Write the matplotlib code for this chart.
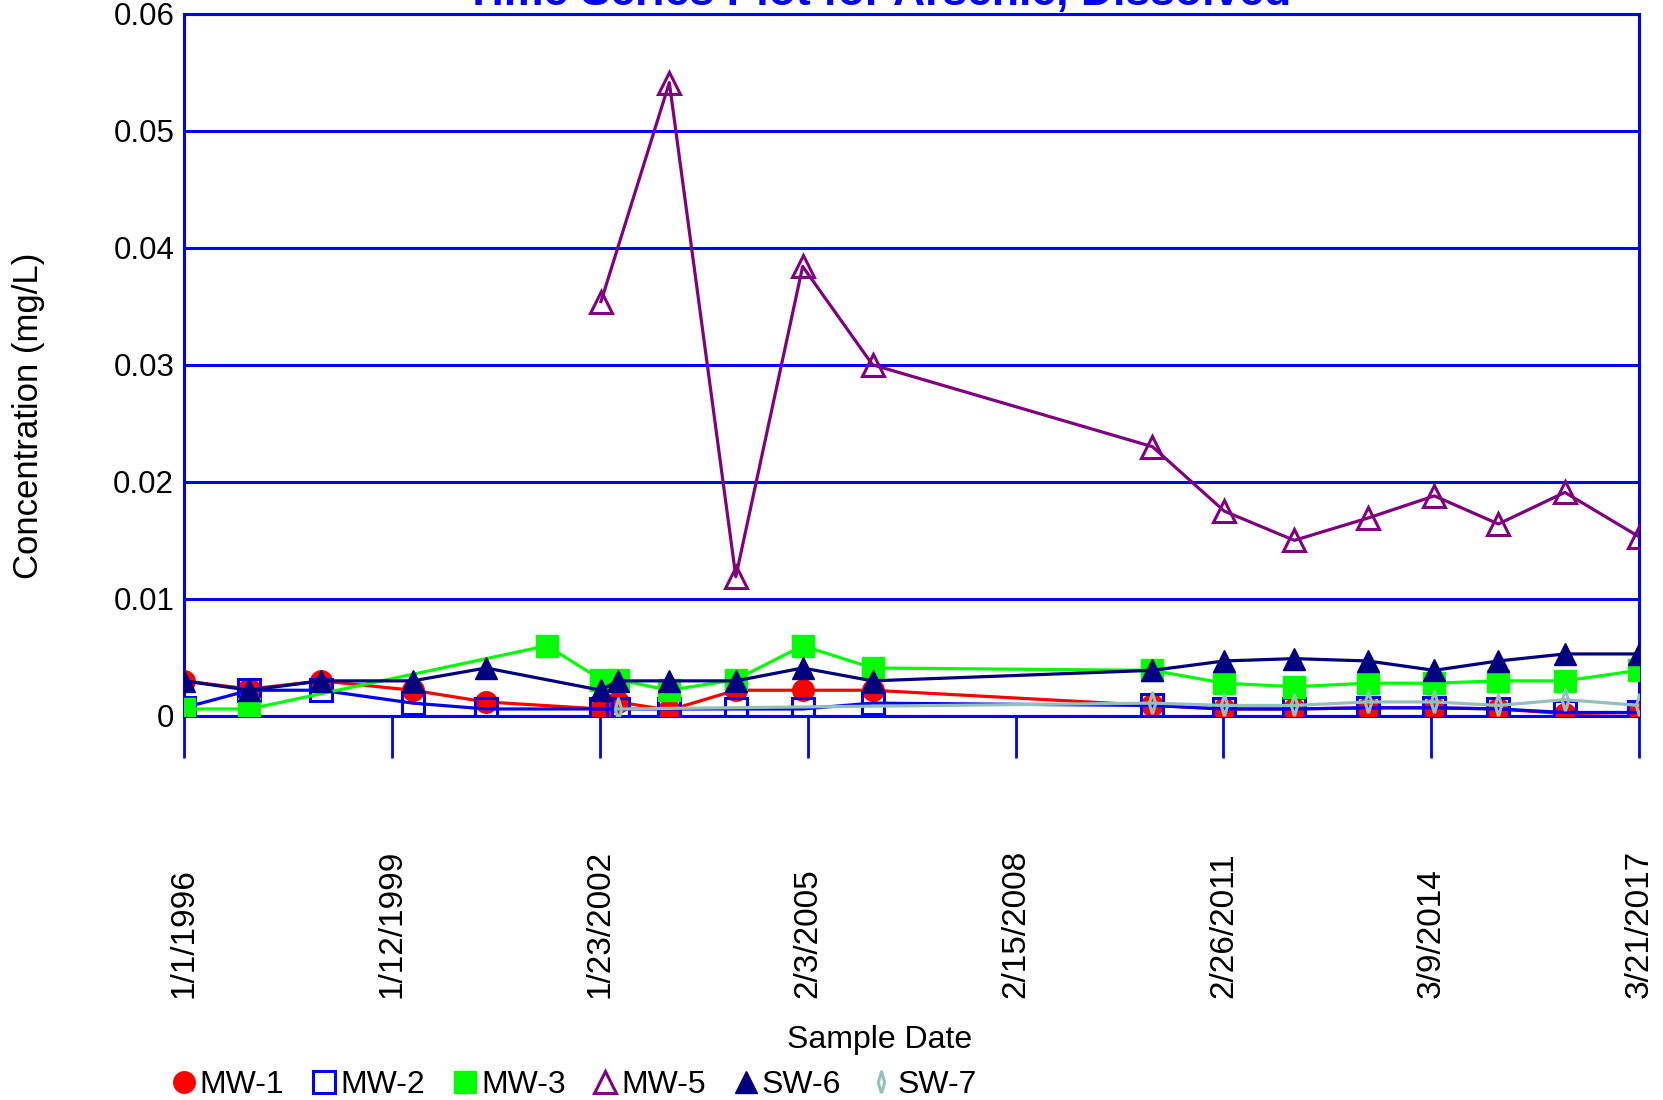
import matplotlib
matplotlib.use("Agg")
import matplotlib.pyplot as plt
import matplotlib.dates as mdates
from matplotlib.lines import Line2D
import numpy as np
import pandas as pd

plt.rcParams['font.family'] = ['Liberation Sans', 'DejaVu Sans']

# sample dates and dissolved arsenic results (mg/L) per location
mw1_dates = ['1996-01-01', '1996-12-15', '1998-01-01', '1999-05-03', '2000-05-28',
             '2002-01-30', '2002-04-29', '2003-01-29', '2004-01-18', '2005-01-08',
             '2006-01-15', '2010-02-14', '2011-03-03', '2012-03-10', '2013-04-05',
             '2014-03-26', '2015-03-02', '2016-02-19', '2017-03-21']
mw1_vals = [0.003, 0.0023, 0.003, 0.0022, 0.0012,
            0.0006, 0.0012, 0.0005, 0.0022, 0.0022,
            0.0022, 0.0009, 0.0006, 0.0006, 0.0007,
            0.0007, 0.0006, 0.0002, 0.0003]

mw2_dates = mw1_dates
mw2_vals = [0.0007, 0.0022, 0.0022, 0.0011, 0.0006,
            0.0006, 0.0006, 0.0006, 0.0006, 0.0006,
            0.0011, 0.0009, 0.0006, 0.0006, 0.0007,
            0.0007, 0.0006, 0.0003, 0.0003]

mw3_dates = ['1996-01-01', '1996-12-15', '2001-04-18', '2002-01-30', '2002-04-29',
             '2003-01-29', '2004-01-18', '2005-01-08', '2006-01-15', '2010-02-14',
             '2011-03-03', '2012-03-10', '2013-04-05', '2014-03-26', '2015-03-02',
             '2016-02-19', '2017-03-21']
mw3_vals = [0.0006, 0.0006, 0.006, 0.0031, 0.0031,
            0.0022, 0.0031, 0.006, 0.0041, 0.0039,
            0.0028, 0.0025, 0.0028, 0.0028, 0.003,
            0.003, 0.0039]

mw5_dates = ['2002-01-30', '2003-01-29', '2004-01-18', '2005-01-08', '2006-01-15',
             '2010-02-14', '2011-03-03', '2012-03-10', '2013-04-05', '2014-03-26',
             '2015-03-02', '2016-02-19', '2017-03-21']
mw5_vals = [0.0354, 0.0541, 0.0119, 0.0384, 0.03,
            0.023, 0.0175, 0.015, 0.0169, 0.0188,
            0.0164, 0.0191, 0.0153]

sw6_dates = mw1_dates
sw6_vals = [0.003, 0.0022, 0.003, 0.003, 0.0041,
            0.0022, 0.003, 0.003, 0.003, 0.0041,
            0.003, 0.0039, 0.0047, 0.0049, 0.0047,
            0.0039, 0.0047, 0.0053, 0.0053]

sw7_dates = ['2002-04-29', '2010-02-14', '2011-03-03', '2012-03-10', '2013-04-05',
             '2014-03-26', '2015-03-02', '2016-02-19', '2017-03-21']
sw7_vals = [0.0006, 0.0011, 0.0009, 0.0009, 0.0012,
            0.0012, 0.0009, 0.0014, 0.0009]

x_tick_labels = ['1/1/1996', '1/12/1999', '1/23/2002', '2/3/2005',
                 '2/15/2008', '2/26/2011', '3/9/2014', '3/21/2017']
y_ticks = [0, 0.01, 0.02, 0.03, 0.04, 0.05, 0.06]
y_tick_labels = ['0', '0.01', '0.02', '0.03', '0.04', '0.05', '0.06']

AXBLUE = '#0000ff'
# narrow diamond used for SW-7
THIN_DIAMOND = [(0, -1), (0.3, 0), (0, 1), (-0.3, 0), (0, -1)]

series = [
    ('MW-1', mw1_dates, mw1_vals, dict(color='#ff0000', marker='o', mfc='#ff0000', mec='#ff0000')),
    ('MW-2', mw2_dates, mw2_vals, dict(color='#0000ff', marker='s', mfc='none', mec='#0000ff')),
    ('MW-3', mw3_dates, mw3_vals, dict(color='#00ff00', marker='s', mfc='#00ff00', mec='#00ff00')),
    ('MW-5', mw5_dates, mw5_vals, dict(color='#800080', marker='^', mfc='none', mec='#800080')),
    ('SW-6', sw6_dates, sw6_vals, dict(color='#000080', marker='^', mfc='#000080', mec='#000080')),
    ('SW-7', sw7_dates, sw7_vals, dict(color='#93c1ba', marker=THIN_DIAMOND, mfc='none', mec='#93c1ba')),
]

fig = plt.figure(figsize=(16.63, 11), dpi=100)
ax = fig.add_axes([0.1106, 0.3491, 0.8751, 0.6386])

handles = []
for name, d, v, st in series:
    ms = 15.5
    mew = 2.2 if st['mfc'] == 'none' else 1
    ax.plot(pd.to_datetime(d), v, lw=2.3, color=st['color'], marker=st['marker'],
            ms=ms, mfc=st['mfc'], mec=st['mec'], mew=mew, zorder=3)
    handles.append(Line2D([], [], ls='none', marker=st['marker'], ms=ms,
                          mfc=st['mfc'], mec=st['mec'], mew=mew))

start = pd.Timestamp('1996-01-01')
end = pd.Timestamp('2017-03-21')
ax.set_xlim(start, end)
ax.set_ylim(0, 0.06)

tick_pos = np.linspace(mdates.date2num(start), mdates.date2num(end), len(x_tick_labels))
ax.set_xticks(tick_pos)
ax.set_xticklabels([])
ax.tick_params(axis='x', direction='out', length=30, width=2, color=AXBLUE)
for tp, lab in zip(tick_pos, x_tick_labels):
    ax.text(tp, -0.402, lab, transform=ax.get_xaxis_transform(), rotation=90,
            ha='center', va='bottom', fontsize=24)

ax.set_yticks(y_ticks)
ax.set_yticklabels(y_tick_labels, fontsize=22.5)
ax.tick_params(axis='y', length=0, pad=7)
ax.yaxis.grid(True, color=AXBLUE, lw=2.2)
ax.set_axisbelow(True)

for sp in ax.spines.values():
    sp.set_color(AXBLUE)
    sp.set_linewidth(2.2)

fig.text(28.5 / 1663, 1 - 416 / 1100, 'Concentration (mg/L)', rotation=90,
         ha='center', va='center', fontsize=25)
fig.text(880 / 1663, 1 - 1040 / 1100, 'Sample Date', ha='center', va='center', fontsize=23)
fig.text(878 / 1663, 1 - 5 / 1100, 'Time Series Plot for Arsenic, Dissolved',
         ha='center', va='baseline', fontsize=32, weight='bold', color=AXBLUE)

fig.legend(handles, [s[0] for s in series], loc='center left',
           bbox_to_anchor=(171 / 1663, 1 - 1085 / 1100), ncol=6, frameon=False,
           fontsize=23, handlelength=0.8, handletextpad=0.1, columnspacing=0.85,
           borderpad=0, borderaxespad=0)

fig.savefig('out.png', dpi=100)
